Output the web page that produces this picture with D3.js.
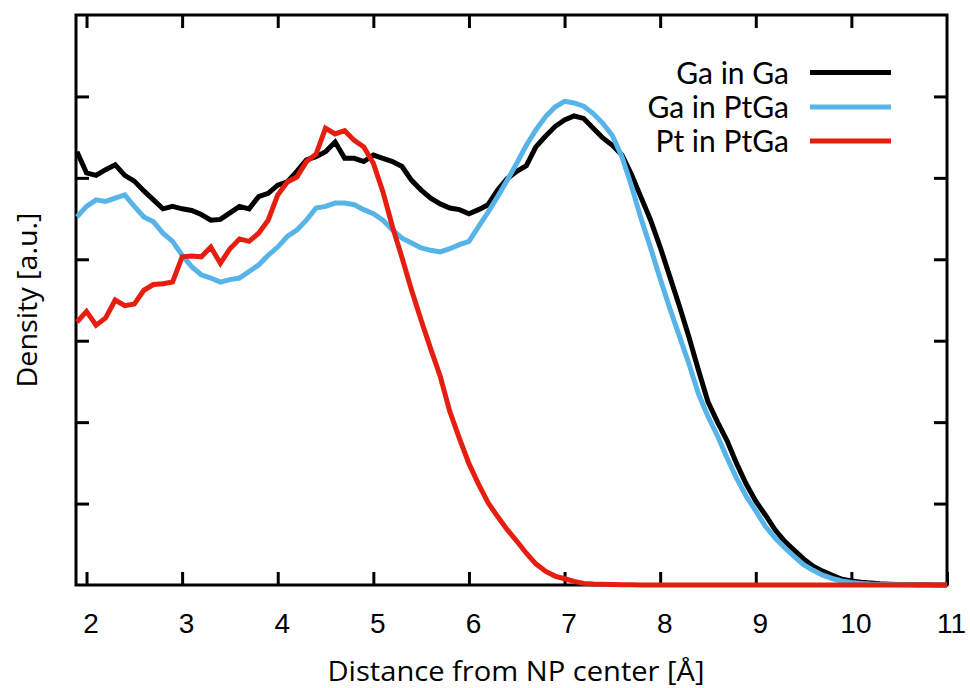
<!DOCTYPE html>
<html>
<head>
<meta charset="utf-8">
<script src="https://cdn.jsdelivr.net/npm/d3@7"></script>
<style>
  body { margin: 0; background: #fff; }
  svg { display: block; }
</style>
</head>
<body>
<svg id="svg1"></svg>
<script>
const width = 970;
const height = 688;

// distance grid [Å]
const distance = [1.9,
  2.0, 2.1, 2.2, 2.3, 2.4, 2.5, 2.6, 2.7, 2.8, 2.9,
  3.0, 3.1, 3.2, 3.3, 3.4, 3.5, 3.6, 3.7, 3.8, 3.9,
  4.0, 4.1, 4.2, 4.3, 4.4, 4.5, 4.6, 4.7, 4.8, 4.9,
  5.0, 5.1, 5.2, 5.3, 5.4, 5.5, 5.6, 5.7, 5.8, 5.9,
  6.0, 6.1, 6.2, 6.3, 6.4, 6.5, 6.6, 6.7, 6.8, 6.9,
  7.0, 7.1, 7.2, 7.3, 7.4, 7.5, 7.6, 7.7, 7.8, 7.9,
  8.0, 8.1, 8.2, 8.3, 8.4, 8.5, 8.6, 8.7, 8.8, 8.9,
  9.0, 9.1, 9.2, 9.3, 9.4, 9.5, 9.6, 9.7, 9.8, 9.9,
  10.0, 10.1, 10.2, 10.3, 10.4, 10.5, 10.6, 10.7, 10.8, 10.9,
  11.0];

const gaInGa = [5.32,
  5.06, 5.03, 5.10, 5.16, 5.03, 4.96, 4.84, 4.73, 4.62, 4.65,
  4.62, 4.60, 4.55, 4.48, 4.49, 4.57, 4.65, 4.62, 4.77, 4.81,
  4.91, 4.95, 5.08, 5.22, 5.26, 5.32, 5.44, 5.24, 5.24, 5.20,
  5.28, 5.24, 5.20, 5.14, 4.97, 4.85, 4.75, 4.68, 4.63, 4.61,
  4.56, 4.61, 4.67, 4.85, 4.99, 5.08, 5.15, 5.38, 5.51, 5.63,
  5.71, 5.76, 5.73, 5.61, 5.49, 5.40, 5.28, 5.04, 4.76, 4.48,
  4.15, 3.79, 3.43, 3.05, 2.64, 2.25, 2.00, 1.77, 1.49, 1.24,
  1.03, 0.86, 0.68, 0.54, 0.43, 0.32, 0.23, 0.17, 0.12, 0.07,
  0.05, 0.035, 0.025, 0.015, 0.01, 0.007, 0.005, 0.003, 0.002, 0.001,
  0.0];

const gaInPtGa = [4.52,
  4.65, 4.73, 4.71, 4.75, 4.79, 4.65, 4.52, 4.46, 4.32, 4.22,
  4.05, 3.91, 3.81, 3.77, 3.72, 3.75, 3.77, 3.85, 3.93, 4.05,
  4.15, 4.28, 4.36, 4.48, 4.63, 4.65, 4.69, 4.69, 4.67, 4.61,
  4.56, 4.48, 4.36, 4.26, 4.20, 4.14, 4.11, 4.09, 4.13, 4.18,
  4.22, 4.40, 4.58, 4.77, 4.97, 5.18, 5.40, 5.59, 5.75, 5.87,
  5.94, 5.92, 5.88, 5.79, 5.67, 5.52, 5.26, 4.90, 4.50, 4.14,
  3.76, 3.40, 3.06, 2.72, 2.35, 2.07, 1.83, 1.56, 1.31, 1.09,
  0.91, 0.72, 0.58, 0.46, 0.35, 0.25, 0.18, 0.12, 0.08, 0.05,
  0.03, 0.02, 0.012, 0.008, 0.005, 0.003, 0.002, 0.001, 0.0, 0.0,
  0.0];

const ptInPtGa = [3.23,
  3.36, 3.19, 3.28, 3.50, 3.43, 3.45, 3.62, 3.69, 3.70, 3.72,
  4.03, 4.04, 4.03, 4.15, 3.95, 4.13, 4.25, 4.22, 4.32, 4.48,
  4.79, 4.95, 5.01, 5.20, 5.29, 5.61, 5.54, 5.58, 5.46, 5.38,
  5.18, 4.83, 4.40, 4.02, 3.62, 3.25, 2.90, 2.56, 2.13, 1.80,
  1.49, 1.24, 1.01, 0.84, 0.68, 0.54, 0.39, 0.26, 0.17, 0.11,
  0.077, 0.045, 0.02, 0.012, 0.008, 0.005, 0.003, 0.002, 0.001, 0.0,
  0.0, 0.0, 0.0, 0.0, 0.0, 0.0, 0.0, 0.0, 0.0, 0.0,
  0.0, 0.0, 0.0, 0.0, 0.0, 0.0, 0.0, 0.0, 0.0, 0.0,
  0.0, 0.0, 0.0, 0.0, 0.0, 0.0, 0.0, 0.0, 0.0, 0.0,
  0.0];

const seriesNames = ["Ga in Ga", "Ga in PtGa", "Pt in PtGa"];
const seriesColors = ["#000000", "#56b4e9", "#e51e10"];
const xTicks = [2, 3, 4, 5, 6, 7, 8, 9, 10, 11];
const yTicks = [1, 2, 3, 4, 5, 6];

const svg = d3.select("#svg1")
    .attr("width", width)
    .attr("height", height)
    .attr("viewBox", [0, 0, width, height]);

const margin = {top: 15, right: 23, bottom: 103, left: 76};

const x = d3.scaleLinear()
    .domain([1.89, 11])
    .range([margin.left, width - margin.right]);
const y = d3.scaleLinear()
    .domain([0, 7])
    .range([height - margin.bottom, margin.top]);

// ticks on all four sides, pointing inward
const tickLen = 13;
const styleAxis = g => {
    g.select(".domain").remove();
    g.selectAll(".tick line").attr("stroke", "#000").attr("stroke-width", 3);
};

svg.append("g")
    .attr("transform", `translate(0,${y(0)})`)
    .call(d3.axisBottom(x).tickValues(xTicks).tickSize(-tickLen).tickPadding(28))
    .call(styleAxis)
    .call(g => g.selectAll(".tick text")
        .attr("dx", 4)
        .attr("fill", "#000")
        .style("font", "28px 'Liberation Sans', Arial, sans-serif"));

svg.append("g")
    .attr("transform", `translate(0,${y(7)})`)
    .call(d3.axisTop(x).tickValues(xTicks.filter(d => d < 11)).tickSize(-tickLen).tickFormat(""))
    .call(styleAxis);

svg.append("g")
    .attr("transform", `translate(${x(1.89)},0)`)
    .call(d3.axisLeft(y).tickValues(yTicks).tickSize(-tickLen).tickFormat(""))
    .call(styleAxis);

svg.append("g")
    .attr("transform", `translate(${x(11)},0)`)
    .call(d3.axisRight(y).tickValues(yTicks).tickSize(-tickLen).tickFormat(""))
    .call(styleAxis);

// frame
svg.append("rect")
    .attr("x", x(1.89))
    .attr("y", y(7))
    .attr("width", x(11) - x(1.89))
    .attr("height", y(0) - y(7))
    .attr("fill", "none")
    .attr("stroke", "#000")
    .attr("stroke-width", 3);

// curves
const line = d3.line()
    .x((d, i) => x(distance[i]))
    .y(d => y(d));

const allSeries = [gaInGa, gaInPtGa, ptInPtGa];
svg.append("g")
    .selectAll("path")
    .data(allSeries)
    .join("path")
    .attr("d", line)
    .attr("fill", "none")
    .attr("stroke", (d, i) => seriesColors[i])
    .attr("stroke-width", 5)
    .attr("stroke-linejoin", "miter");

// legend
const legend = svg.append("g")
    .selectAll("g")
    .data(seriesNames)
    .join("g")
    .attr("transform", (d, i) => `translate(0,${[83.5, 118, 152][i]})`);

legend.append("text")
    .attr("x", 789)
    .attr("text-anchor", "end")
    .style("font", "30px Lato, sans-serif")
    .attr("fill", "#000")
    .text(d => d);

legend.append("line")
    .attr("x1", 810)
    .attr("x2", 891)
    .attr("y1", -11)
    .attr("y2", -11)
    .attr("stroke", (d, i) => seriesColors[i])
    .attr("stroke-width", 5);

// axis titles
svg.append("text")
    .attr("x", 516)
    .attr("y", 681)
    .attr("text-anchor", "middle")
    .attr("textLength", 377)
    .attr("lengthAdjust", "spacingAndGlyphs")
    .style("font", "27px 'Open Sans', sans-serif")
    .attr("fill", "#000")
    .text("Distance from NP center [Å]");

svg.append("text")
    .attr("transform", "translate(37,300) rotate(-90)")
    .attr("text-anchor", "middle")
    .attr("textLength", 175)
    .attr("lengthAdjust", "spacingAndGlyphs")
    .style("font", "27px 'Open Sans', sans-serif")
    .attr("fill", "#000")
    .text("Density [a.u.]");
</script>
</body>
</html>
